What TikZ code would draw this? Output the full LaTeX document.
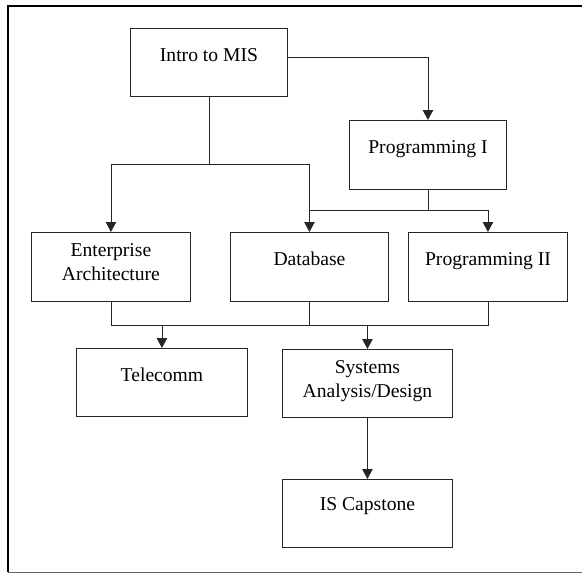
\documentclass[tikz,border=0pt]{standalone}
\usepackage{fontspec}
\setmainfont{Liberation Serif}
\usetikzlibrary{arrows.meta}
\begin{document}
\begin{tikzpicture}[x=1pt,y=-1pt,
  boxst/.style={draw=black!85, line width=0.9pt, rectangle, anchor=north west,
    inner xsep=0pt, inner ysep=0pt, align=center,
    font=\fontsize{19.6}{23.6}\selectfont, text height=33pt, text depth=35pt},
  tall/.style={text depth=36pt},
  twoline/.style={text height=47.6pt, text depth=21.4pt},
  conn/.style={draw=black!85, line width=0.9pt},
  arr/.style={conn, -{Triangle[width=10.5pt,length=10pt]}}]
\useasboundingbox (0,0) rectangle (582,573);
% frame
\draw[black!60, line width=0.8pt] (8,572) -- (582,572);
\draw[black, line width=1.6pt] (582,6) -- (8,6) -- (8,572);
% boxes
\node[boxst, minimum width=157pt] (intro) at (130,28) {Intro to MIS};
\node[boxst, tall, minimum width=157pt] (prog1) at (349,120) {Programming I};
\node[boxst, twoline, minimum width=159pt] (ent) at (31,232) {Enterprise\\Architecture};
\node[boxst, tall, minimum width=158pt] (db) at (230,232) {Database};
\node[boxst, tall, minimum width=159pt] (prog2) at (408,232) {Programming II};
\node[boxst, minimum width=171pt] (tele) at (76,348) {Telecomm};
\node[boxst, twoline, text depth=20.4pt, minimum width=170pt] (sys) at (282,349) {Systems\\Analysis/Design};
\node[boxst, text height=31pt, text depth=37pt, minimum width=170pt] (cap) at (282,479) {IS Capstone};
% bus levels
\coordinate (busA) at (0,164);
\coordinate (busB) at (0,210.5);
\coordinate (busC) at (0,325);
% connectors
\draw[arr] ([yshift=5pt]intro.east) -| (prog1.north);
\draw[conn] (intro.south) -- (intro.south |- busA);
\draw[arr] (intro.south |- busA) -| (ent.north);
\draw[arr] (intro.south |- busA) -| (db.north);
\draw[conn] (prog1.south) -- (prog1.south |- busB);
\draw[arr] (prog1.south |- busB) -| (prog2.north);
\draw[conn] (prog1.south |- busB) -- (db.north |- busB);
\draw[conn] (ent.south) |- (prog2.south |- busC) -- (prog2.south);
\draw[conn] (db.south) -- (db.south |- busC);
\draw[arr] (tele.north |- busC) -- (tele.north);
\draw[arr] (sys.north |- busC) -- (sys.north);
\draw[arr] (sys.south) -- (cap.north);
\end{tikzpicture}
\end{document}
